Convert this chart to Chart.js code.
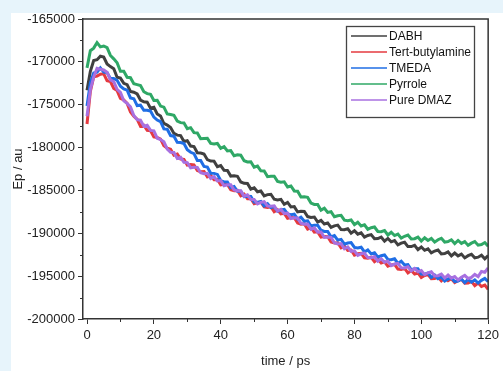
<!DOCTYPE html>
<html>
<head>
<meta charset="utf-8">
<script src="https://cdn.jsdelivr.net/npm/chart.js@4.4.1/dist/chart.umd.min.js"></script>
<style>
    body { margin: 0; background: #e7f4fb; }
    #panel { position: absolute; left: 11px; top: 13px; right: 0; bottom: 0; background: #ffffff; }
    #wrap { position: absolute; left: 0; top: 0; width: 503px; height: 371px; }
</style>
</head>
<body>
<div id="panel"></div>
<div id="wrap"><canvas id="energyChart" width="503" height="371"></canvas></div>
<script>
// Tid i ps (0..120)
const time = [
    0, 1, 2, 3, 4, 5, 6, 7, 8, 9, 10, 11, 12, 13, 14, 15, 16, 17, 18, 19, 20,
    21, 22, 23, 24, 25, 26, 27, 28, 29, 30, 31, 32, 33, 34, 35, 36, 37, 38, 39, 40,
    41, 42, 43, 44, 45, 46, 47, 48, 49, 50, 51, 52, 53, 54, 55, 56, 57, 58, 59, 60,
    61, 62, 63, 64, 65, 66, 67, 68, 69, 70, 71, 72, 73, 74, 75, 76, 77, 78, 79, 80,
    81, 82, 83, 84, 85, 86, 87, 88, 89, 90, 91, 92, 93, 94, 95, 96, 97, 98, 99, 100,
    101, 102, 103, 104, 105, 106, 107, 108, 109, 110, 111, 112, 113, 114, 115, 116, 117, 118, 119, 120
]

const seriesNames = ['DABH', 'Tert-butylamine', 'TMEDA', 'Pyrrole', 'Pure DMAZ']
const seriesColors = ['#404040', '#e53a3f', '#1f6ee5', '#2fa866', '#a870e0']

const dabh = [
    -173300, -171100, -169850, -169750, -169350, -169450, -170250, -170550, -170800, -171800, -171900,
    -172500, -172650, -173450, -173550, -173750, -174450, -174650, -174700, -175400, -175300,
    -176080, -176310, -177190, -177370, -177650, -178350, -178550, -178600, -179300, -179200,
    -179820, -179890, -180610, -180630, -180750, -181410, -181570, -181580, -182240, -182100,
    -182660, -182670, -183330, -183290, -183350, -184010, -184170, -184180, -184840, -184700,
    -185160, -185070, -185630, -185490, -185450, -186030, -186110, -186040, -186620, -186400,
    -186920, -186890, -187510, -187430, -187450, -188050, -188150, -188100, -188700, -188500,
    -188920, -188790, -189310, -189130, -189050, -189570, -189590, -189460, -189980, -189700,
    -190100, -189950, -190450, -190250, -190150, -190630, -190610, -190440, -190920, -190600,
    -191000, -190850, -191350, -191150, -191050, -191550, -191550, -191400, -191900, -191600,
    -191980, -191810, -192290, -192070, -191950, -192410, -192370, -192180, -192640, -192300,
    -192640, -192430, -192870, -192610, -192450, -192870, -192790, -192560, -192980, -192600
]

const tertButylamine = [
    -177250, -173450, -171750, -171650, -171450, -171400, -172200, -172300, -173100, -173350, -174250,
    -174450, -174850, -175850, -176350, -176700, -177500, -177400, -178000, -178050, -178750,
    -178830, -179010, -179790, -180070, -180200, -180880, -180760, -181340, -181370, -182050,
    -181990, -182030, -182670, -182810, -182800, -183420, -183240, -183760, -183730, -184350,
    -184270, -184290, -184910, -185030, -185000, -185620, -185440, -185960, -185930, -186550,
    -186410, -186370, -186930, -186990, -186900, -187480, -187260, -187740, -187670, -188250,
    -188170, -188190, -188810, -188930, -188900, -189520, -189340, -189860, -189830, -190450,
    -190370, -190390, -191010, -191130, -191100, -191700, -191500, -192000, -191950, -192550,
    -192390, -192330, -192870, -192910, -192800, -193320, -193040, -193460, -193330, -193850,
    -193690, -193630, -194170, -194210, -194100, -194620, -194340, -194760, -194630, -195150,
    -194930, -194810, -195290, -195270, -195100, -195540, -195180, -195520, -195310, -195750,
    -195510, -195370, -195830, -195790, -195600, -196100, -195800, -196200, -196050, -196550
]

const tmeda = [
    -175150, -172450, -171300, -171200, -170700, -171200, -171250, -171950, -171950, -172150, -172850,
    -173150, -173300, -174200, -174300, -175100, -175050, -175650, -175650, -175750, -176450,
    -176790, -176980, -177820, -177860, -178600, -178670, -179390, -179410, -179530, -180250,
    -180550, -180700, -181500, -181500, -182200, -182270, -182990, -183010, -183130, -183850,
    -184010, -184020, -184680, -184540, -185100, -185090, -185730, -185670, -185710, -186350,
    -186390, -186280, -186820, -186560, -187000, -186890, -187430, -187270, -187210, -187750,
    -187830, -187760, -188340, -188120, -188600, -188550, -189150, -189050, -189050, -189650,
    -189790, -189780, -190420, -190260, -190800, -190710, -191270, -191130, -191090, -191650,
    -191710, -191620, -192180, -191940, -192400, -192270, -192790, -192610, -192530, -193050,
    -193090, -192980, -193520, -193260, -193700, -193650, -194250, -194150, -194150, -194750,
    -194770, -194640, -195160, -194880, -195300, -195110, -195570, -195330, -195190, -195650,
    -195570, -195340, -195760, -195380, -195700, -195430, -195810, -195490, -195270, -195650
]

const pyrrole = [
    -170700, -168700, -168400, -167750, -168250, -168150, -168350, -169250, -169650, -170100, -171100,
    -171100, -171800, -171850, -172550, -172650, -172770, -173490, -173710, -173780, -174500,
    -174480, -175160, -175290, -176070, -176150, -176230, -176910, -177090, -177120, -177800,
    -177680, -178260, -178290, -178970, -178950, -178930, -179510, -179590, -179520, -180100,
    -179900, -180400, -180350, -180950, -180850, -180890, -181530, -181670, -181660, -182300,
    -182160, -182720, -182730, -183390, -183350, -183350, -183950, -184050, -184000, -184600,
    -184480, -185060, -185090, -185770, -185750, -185810, -186470, -186630, -186640, -187300,
    -187080, -187560, -187490, -188070, -187950, -187910, -188470, -188530, -188440, -189000,
    -188720, -189140, -189010, -189530, -189350, -189270, -189790, -189810, -189680, -190200,
    -189880, -190260, -190090, -190570, -190350, -190210, -190670, -190630, -190440, -190900,
    -190520, -190840, -190610, -191030, -190750, -190590, -191030, -190970, -190760, -191200,
    -190840, -191180, -190970, -191410, -191150, -190970, -191390, -191310, -191080, -191500
]

const pureDmaz = [
    -176350, -173250, -171750, -170750, -170850, -170950, -171200, -172100, -172300, -173200, -173550,
    -174550, -174850, -175250, -176250, -176750, -176800, -177500, -177400, -178000, -178050,
    -178910, -179070, -179330, -180190, -180550, -180580, -181260, -181140, -181720, -181750,
    -182370, -182290, -182310, -182930, -183050, -183000, -183600, -183400, -183900, -183850,
    -184450, -184350, -184350, -184950, -185050, -185040, -185680, -185520, -186060, -186050,
    -186570, -186390, -186310, -186830, -186850, -186800, -187400, -187200, -187700, -187650,
    -188270, -188190, -188210, -188830, -188950, -188920, -189540, -189360, -189880, -189850,
    -190490, -190430, -190470, -191110, -191250, -191200, -191800, -191600, -192100, -192050,
    -192570, -192390, -192310, -192830, -192850, -192720, -193240, -192960, -193380, -193250,
    -193770, -193590, -193510, -194030, -194050, -193900, -194400, -194100, -194500, -194350,
    -194830, -194610, -194490, -194970, -194950, -194760, -195220, -194880, -195240, -195050,
    -195450, -195130, -194910, -195280, -195150, -194800, -195050, -194450, -194550, -194050
]

const allSeries = [dabh, tertButylamine, tmeda, pyrrole, pureDmaz]
// Ritordning: lila överst, sedan blå
const drawOrder = [3, 4, 1, 2, 0]

const xTicks = [0, 20, 40, 60, 80, 100, 120]
const xMinorTicks = [10, 30, 50, 70, 90, 110]
const yTicks = [-200000, -195000, -190000, -185000, -180000, -175000, -170000, -165000]
const yMinorTicks = [-197500, -192500, -187500, -182500, -177500, -172500, -167500]

const axisColor = '#333333'

// Ram, små tick-streck och legend inne i diagrammet
const framePlugin = {
    id: 'frameAndLegend',
    afterDraw(chart) {
        const ctx = chart.ctx
        const area = chart.chartArea
        const xs = chart.scales.x
        const ys = chart.scales.y
        ctx.save()
        ctx.strokeStyle = axisColor
        ctx.lineWidth = 1.5
        ctx.beginPath()
        ctx.moveTo(area.left, area.top)
        ctx.lineTo(area.right, area.top)
        ctx.lineTo(area.right, area.bottom)
        ctx.stroke()

        ctx.lineWidth = 1
        ctx.beginPath()
        xMinorTicks.forEach((v) => {
            const px = Math.round(xs.getPixelForValue(v)) + 0.5
            ctx.moveTo(px, area.bottom)
            ctx.lineTo(px, area.bottom + 3)
        })
        yMinorTicks.forEach((v) => {
            const py = Math.round(ys.getPixelForValue(v)) + 0.5
            ctx.moveTo(area.left, py)
            ctx.lineTo(area.left - 3, py)
        })
        ctx.stroke()

        // legend
        ctx.lineWidth = 1.3
        ctx.strokeStyle = '#444'
        ctx.strokeRect(346.5, 26.5, 128, 91)
        ctx.font = '12px "Liberation Sans", Arial, sans-serif'
        ctx.textBaseline = 'middle'
        ctx.textAlign = 'left'
        chart.data.datasets.forEach((ds, i) => {
            const y = 36 + 16 * i
            ctx.strokeStyle = ds.borderColor
            ctx.lineWidth = 1.5
            ctx.beginPath()
            ctx.moveTo(351, y)
            ctx.lineTo(387, y)
            ctx.stroke()
            ctx.fillStyle = '#111'
            ctx.fillText(ds.label, 389, y + 0.5)
        })
        ctx.restore()
    }
}

const datasets = seriesNames.map((name, i) => ({
    label: name,
    data: time.map((t, j) => ({ x: t, y: allSeries[i][j] })),
    borderColor: seriesColors[i],
    backgroundColor: seriesColors[i],
    borderWidth: 3,
    pointRadius: 0,
    tension: 0,
    order: drawOrder[i]
}))

Chart.defaults.font.family = '"Liberation Sans", Arial, sans-serif'

new Chart(document.getElementById('energyChart'), {
    type: 'line',
    data: { datasets: datasets },
    options: {
        responsive: false,
        animation: false,
        layout: { padding: { top: 19, right: 8, left: 0, bottom: 0 } },
        plugins: {
            legend: { display: false },
            tooltip: { enabled: false }
        },
        scales: {
            x: {
                type: 'linear',
                min: -1.2,
                max: 120,
                afterBuildTicks: (axis) => { axis.ticks = xTicks.map((v) => ({ value: v })) },
                afterFit: (axis) => { axis.height = 52 },
                ticks: { color: '#222', font: { size: 13 }, padding: 4, maxRotation: 0 },
                grid: { drawOnChartArea: false, tickLength: 5, color: axisColor },
                border: { color: axisColor, width: 1.5 },
                title: { display: true, text: 'time / ps', color: '#222', font: { size: 13 }, padding: { top: 0, bottom: 2 } }
            },
            y: {
                type: 'linear',
                min: -200000,
                max: -165000,
                afterBuildTicks: (axis) => { axis.ticks = yTicks.map((v) => ({ value: v })) },
                afterFit: (axis) => { axis.width = 83 },
                ticks: { color: '#222', font: { size: 13 }, padding: 3, callback: (v) => String(v) },
                grid: { drawOnChartArea: false, tickLength: 5, color: axisColor },
                border: { color: axisColor, width: 1.5 },
                title: { display: true, text: 'Ep / au', color: '#222', font: { size: 13 }, padding: { top: 11, bottom: 0 } }
            }
        }
    },
    plugins: [framePlugin]
})
</script>
</body>
</html>
